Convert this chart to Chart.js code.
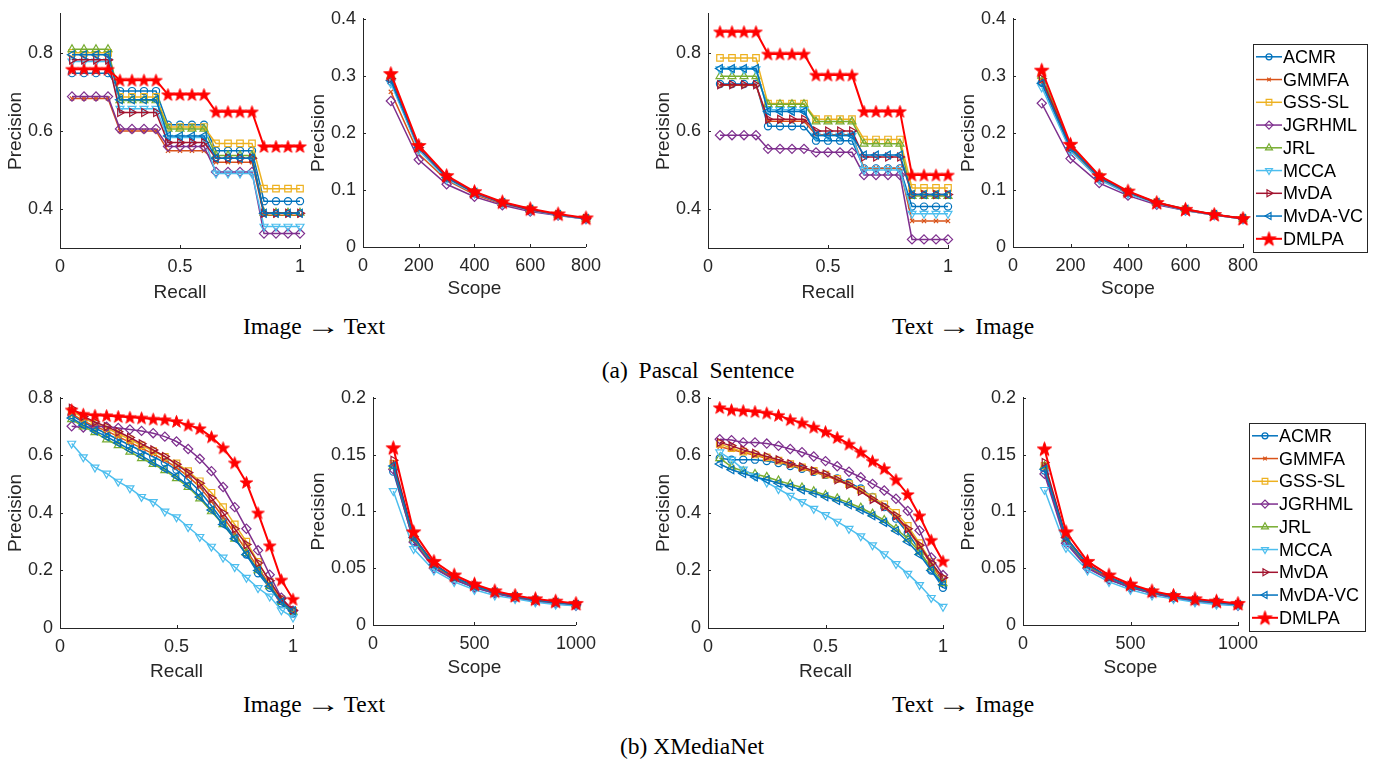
<!DOCTYPE html>
<html>
<head>
<meta charset="utf-8">
<script src="https://cdn.jsdelivr.net/npm/chart.js@4.4.1/dist/chart.umd.min.js"></script>
<style>
html, body { margin: 0; padding: 0; background: #fff; }
#fig { position: relative; width: 1380px; height: 767px; overflow: hidden; background: #fff; }
#fig canvas { position: absolute; }
.cap { position: absolute; font-family: "Liberation Serif", "Times New Roman", serif; font-size: 23.5px; line-height: 24px; color: #000; white-space: nowrap; transform: translateX(-50%); }
.arr { display: inline-block; width: 34px; margin: 0 4px; text-align: center; transform: scaleX(1.45); }
.ws { word-spacing: 5px; }
</style>
</head>
<body>
<div id="fig">
  <div class="cap" style="left:314px; top:314px;">Image<span class="arr">&rarr;</span>Text</div>
  <div class="cap" style="left:963px; top:314px;">Text<span class="arr">&rarr;</span>Image</div>
  <div class="cap ws" style="left:698px; top:358px;">(a) Pascal Sentence</div>
  <div class="cap" style="left:314px; top:692px;">Image<span class="arr">&rarr;</span>Text</div>
  <div class="cap" style="left:963px; top:692px;">Text<span class="arr">&rarr;</span>Image</div>
  <div class="cap" style="left:692px; top:734px;">(b) XMediaNet</div>
</div>
<script>
// ---- methods and their styles ----
const methods = ['ACMR', 'GMMFA', 'GSS-SL', 'JGRHML', 'JRL', 'MCCA', 'MvDA', 'MvDA-VC', 'DMLPA'];
const colors = ['#0072BD', '#D95319', '#EDB120', '#7E2F8E', '#77AC30', '#4DBEEE', '#A2142F', '#0072BD', '#FF0000'];
const markers = ['circle', 'crossRot', 'rect', 'rectRot', 'triangle', 'triangle', 'triangle', 'triangle', 'star5'];
const markerRotation = [0, 0, 0, 0, 0, 180, 90, -90, 0];
const markerRadius = [3.6, 3, 4.6, 4.6, 4.6, 4.6, 4.6, 4.6, 6];

// ---- x values and tick labels ----
const recall = [0.05, 0.1, 0.15, 0.2, 0.25, 0.3, 0.35, 0.4, 0.45, 0.5, 0.55, 0.6, 0.65, 0.7, 0.75, 0.8, 0.85, 0.9, 0.95, 1];
const scopePascal = [100, 200, 300, 400, 500, 600, 700, 800];
const scopeXMedia = [100, 200, 300, 400, 500, 600, 700, 800, 900, 1000];
const recallTicks = [0, 0.5, 1];
const prTicksPascal = [0.4, 0.6, 0.8];
const prTicksXMedia = [0, 0.2, 0.4, 0.6, 0.8];
const scopeTicksPascalX = [0, 200, 400, 600, 800];
const scopeTicksPascalY = [0, 0.1, 0.2, 0.3, 0.4];
const scopeTicksXMediaX = [0, 500, 1000];
const scopeTicksXMediaY = [0, 0.05, 0.1, 0.15, 0.2];

// ---- Pascal Sentence, Image -> Text, precision vs recall (rows follow methods) ----
const pascalImgTxtPR = [
  [0.748,0.748,0.748,0.748, 0.702,0.702,0.702,0.702, 0.616,0.616,0.616,0.616, 0.549,0.549,0.549,0.549, 0.420,0.420,0.420,0.420],
  [0.683,0.683,0.683,0.683, 0.600,0.600,0.600,0.600, 0.549,0.549,0.549,0.549, 0.520,0.520,0.520,0.520, 0.384,0.384,0.384,0.384],
  [0.800,0.800,0.800,0.800, 0.687,0.687,0.687,0.687, 0.610,0.610,0.610,0.610, 0.568,0.568,0.568,0.568, 0.452,0.452,0.452,0.452],
  [0.688,0.688,0.688,0.688, 0.605,0.605,0.605,0.605, 0.560,0.560,0.560,0.560, 0.495,0.495,0.495,0.495, 0.337,0.337,0.337,0.337],
  [0.809,0.809,0.809,0.809, 0.678,0.678,0.678,0.678, 0.605,0.605,0.605,0.605, 0.537,0.537,0.537,0.537, 0.390,0.390,0.390,0.390],
  [0.778,0.778,0.778,0.778, 0.657,0.657,0.657,0.657, 0.583,0.583,0.583,0.583, 0.491,0.491,0.491,0.491, 0.355,0.355,0.355,0.355],
  [0.782,0.782,0.782,0.782, 0.647,0.647,0.647,0.647, 0.570,0.570,0.570,0.570, 0.530,0.530,0.530,0.530, 0.389,0.389,0.389,0.389],
  [0.795,0.795,0.795,0.795, 0.680,0.680,0.680,0.680, 0.587,0.587,0.587,0.587, 0.530,0.530,0.530,0.530, 0.389,0.389,0.389,0.389],
  [0.758,0.758,0.758,0.758, 0.730,0.730,0.730,0.730, 0.693,0.693,0.693,0.693, 0.649,0.649,0.649,0.649, 0.560,0.560,0.560,0.560]
];

// ---- Pascal Sentence, Image -> Text, precision vs scope ----
const pascalImgTxtScope = [
  [0.290, 0.173, 0.121, 0.095, 0.077, 0.065, 0.057, 0.050],
  [0.272, 0.163, 0.117, 0.092, 0.075, 0.064, 0.056, 0.049],
  [0.298, 0.176, 0.123, 0.096, 0.078, 0.066, 0.057, 0.050],
  [0.256, 0.153, 0.110, 0.088, 0.073, 0.062, 0.055, 0.049],
  [0.300, 0.176, 0.123, 0.096, 0.078, 0.066, 0.057, 0.050],
  [0.287, 0.170, 0.119, 0.094, 0.076, 0.064, 0.056, 0.049],
  [0.295, 0.174, 0.122, 0.095, 0.077, 0.065, 0.057, 0.050],
  [0.292, 0.175, 0.122, 0.096, 0.078, 0.066, 0.057, 0.050],
  [0.304, 0.178, 0.125, 0.097, 0.079, 0.067, 0.058, 0.051]
];

// ---- Pascal Sentence, Text -> Image, precision vs recall ----
const pascalTxtImgPR = [
  [0.720,0.720,0.720,0.720, 0.612,0.612,0.612,0.612, 0.575,0.575,0.575,0.575, 0.504,0.504,0.504,0.504, 0.406,0.406,0.406,0.406],
  [0.717,0.717,0.717,0.717, 0.625,0.625,0.625,0.625, 0.590,0.590,0.590,0.590, 0.504,0.504,0.504,0.504, 0.369,0.369,0.369,0.369],
  [0.787,0.787,0.787,0.787, 0.670,0.670,0.670,0.670, 0.630,0.630,0.630,0.630, 0.578,0.578,0.578,0.578, 0.454,0.454,0.454,0.454],
  [0.589,0.589,0.589,0.589, 0.554,0.554,0.554,0.554, 0.545,0.545,0.545,0.545, 0.487,0.487,0.487,0.487, 0.322,0.322,0.322,0.322],
  [0.740,0.740,0.740,0.740, 0.668,0.668,0.668,0.668, 0.624,0.624,0.624,0.624, 0.567,0.567,0.567,0.567, 0.433,0.433,0.433,0.433],
  [0.758,0.758,0.758,0.758, 0.654,0.654,0.654,0.654, 0.588,0.588,0.588,0.588, 0.500,0.500,0.500,0.500, 0.388,0.388,0.388,0.388],
  [0.718,0.718,0.718,0.718, 0.630,0.630,0.630,0.630, 0.600,0.600,0.600,0.600, 0.533,0.533,0.533,0.533, 0.437,0.437,0.437,0.437],
  [0.760,0.760,0.760,0.760, 0.650,0.650,0.650,0.650, 0.588,0.588,0.588,0.588, 0.538,0.538,0.538,0.538, 0.437,0.437,0.437,0.437],
  [0.854,0.854,0.854,0.854, 0.797,0.797,0.797,0.797, 0.743,0.743,0.743,0.743, 0.650,0.650,0.650,0.650, 0.487,0.487,0.487,0.487]
];

// ---- Pascal Sentence, Text -> Image, precision vs scope ----
const pascalTxtImgScope = [
  [0.288, 0.172, 0.120, 0.095, 0.077, 0.065, 0.057, 0.050],
  [0.290, 0.170, 0.119, 0.094, 0.076, 0.064, 0.056, 0.049],
  [0.300, 0.177, 0.124, 0.097, 0.078, 0.066, 0.057, 0.050],
  [0.252, 0.155, 0.112, 0.090, 0.074, 0.064, 0.056, 0.049],
  [0.300, 0.177, 0.123, 0.096, 0.078, 0.066, 0.057, 0.050],
  [0.280, 0.168, 0.118, 0.093, 0.076, 0.064, 0.056, 0.049],
  [0.295, 0.175, 0.122, 0.096, 0.077, 0.065, 0.057, 0.050],
  [0.287, 0.174, 0.122, 0.096, 0.078, 0.066, 0.057, 0.050],
  [0.310, 0.180, 0.125, 0.098, 0.078, 0.066, 0.057, 0.050]
];

// ---- XMediaNet, Image -> Text, precision vs recall ----
const xmediaImgTxtPR = [
  [0.740,0.715,0.695,0.675,0.655,0.635,0.615,0.595,0.575,0.550,0.515,0.475,0.425,0.370,0.315,0.255,0.190,0.140,0.085,0.050],
  [0.745,0.720,0.700,0.685,0.665,0.645,0.625,0.605,0.583,0.557,0.527,0.490,0.440,0.385,0.330,0.270,0.210,0.150,0.095,0.055],
  [0.755,0.730,0.710,0.695,0.675,0.655,0.635,0.615,0.595,0.572,0.545,0.510,0.470,0.420,0.360,0.300,0.230,0.160,0.100,0.060],
  [0.701,0.697,0.700,0.700,0.695,0.690,0.685,0.677,0.665,0.648,0.622,0.588,0.545,0.490,0.420,0.345,0.270,0.185,0.105,0.060],
  [0.725,0.700,0.680,0.655,0.635,0.612,0.590,0.570,0.548,0.520,0.490,0.450,0.405,0.360,0.310,0.260,0.200,0.145,0.090,0.055],
  [0.641,0.594,0.558,0.537,0.509,0.486,0.456,0.438,0.405,0.385,0.351,0.317,0.283,0.245,0.212,0.175,0.139,0.110,0.062,0.037],
  [0.764,0.735,0.716,0.700,0.682,0.662,0.640,0.619,0.596,0.569,0.540,0.503,0.452,0.400,0.345,0.290,0.226,0.164,0.102,0.062],
  [0.730,0.705,0.685,0.665,0.643,0.620,0.598,0.575,0.553,0.527,0.495,0.455,0.410,0.360,0.310,0.255,0.200,0.145,0.090,0.060],
  [0.758,0.743,0.739,0.738,0.735,0.732,0.730,0.726,0.724,0.718,0.705,0.693,0.664,0.626,0.574,0.506,0.400,0.286,0.167,0.100]
];

// ---- XMediaNet, Image -> Text, precision vs scope ----
const xmediaImgTxtScope = [
  [0.135, 0.074, 0.051, 0.040, 0.033, 0.028, 0.024, 0.021, 0.019, 0.018],
  [0.142, 0.076, 0.052, 0.041, 0.034, 0.028, 0.025, 0.022, 0.020, 0.018],
  [0.142, 0.077, 0.053, 0.042, 0.034, 0.029, 0.025, 0.022, 0.020, 0.018],
  [0.137, 0.073, 0.050, 0.040, 0.033, 0.028, 0.024, 0.021, 0.019, 0.017],
  [0.140, 0.076, 0.053, 0.042, 0.034, 0.029, 0.025, 0.022, 0.020, 0.018],
  [0.118, 0.067, 0.048, 0.038, 0.031, 0.026, 0.023, 0.020, 0.018, 0.017],
  [0.145, 0.078, 0.054, 0.042, 0.035, 0.029, 0.025, 0.022, 0.020, 0.018],
  [0.140, 0.077, 0.053, 0.042, 0.034, 0.029, 0.025, 0.022, 0.020, 0.018],
  [0.156, 0.082, 0.056, 0.044, 0.036, 0.030, 0.026, 0.023, 0.021, 0.019]
];

// ---- XMediaNet, Text -> Image, precision vs recall ----
const xmediaTxtImgPR = [
  [0.590,0.585,0.585,0.585,0.580,0.573,0.563,0.553,0.543,0.532,0.520,0.505,0.485,0.455,0.420,0.380,0.330,0.270,0.200,0.140],
  [0.630,0.620,0.610,0.600,0.590,0.578,0.566,0.554,0.542,0.530,0.514,0.496,0.475,0.448,0.420,0.385,0.340,0.285,0.220,0.165],
  [0.640,0.625,0.613,0.603,0.593,0.582,0.570,0.558,0.546,0.533,0.518,0.500,0.480,0.455,0.430,0.400,0.355,0.295,0.230,0.170],
  [0.656,0.653,0.645,0.645,0.641,0.633,0.622,0.611,0.596,0.580,0.562,0.543,0.524,0.501,0.478,0.449,0.407,0.339,0.245,0.184],
  [0.590,0.560,0.545,0.535,0.525,0.512,0.500,0.488,0.475,0.462,0.450,0.435,0.418,0.397,0.375,0.345,0.310,0.265,0.210,0.155],
  [0.611,0.585,0.551,0.528,0.506,0.483,0.460,0.438,0.415,0.393,0.370,0.345,0.319,0.288,0.257,0.223,0.189,0.150,0.105,0.074],
  [0.645,0.633,0.619,0.607,0.596,0.585,0.571,0.560,0.546,0.535,0.515,0.498,0.475,0.447,0.422,0.390,0.345,0.288,0.226,0.175],
  [0.570,0.550,0.537,0.525,0.515,0.503,0.492,0.480,0.468,0.456,0.443,0.428,0.410,0.390,0.367,0.338,0.300,0.255,0.200,0.150],
  [0.766,0.758,0.755,0.752,0.747,0.739,0.724,0.713,0.698,0.682,0.662,0.639,0.611,0.580,0.554,0.515,0.464,0.390,0.305,0.232]
];

// ---- XMediaNet, Text -> Image, precision vs scope ----
const xmediaTxtImgScope = [
  [0.136, 0.074, 0.051, 0.040, 0.033, 0.028, 0.024, 0.021, 0.019, 0.018],
  [0.140, 0.076, 0.052, 0.041, 0.034, 0.028, 0.025, 0.022, 0.020, 0.018],
  [0.140, 0.077, 0.053, 0.042, 0.034, 0.029, 0.025, 0.022, 0.020, 0.018],
  [0.133, 0.072, 0.050, 0.040, 0.033, 0.028, 0.024, 0.021, 0.019, 0.017],
  [0.140, 0.076, 0.053, 0.042, 0.034, 0.029, 0.025, 0.022, 0.020, 0.018],
  [0.119, 0.068, 0.048, 0.038, 0.031, 0.026, 0.023, 0.020, 0.018, 0.017],
  [0.143, 0.077, 0.054, 0.042, 0.035, 0.029, 0.025, 0.022, 0.020, 0.018],
  [0.137, 0.077, 0.053, 0.042, 0.034, 0.029, 0.025, 0.022, 0.020, 0.018],
  [0.155, 0.082, 0.056, 0.044, 0.036, 0.030, 0.026, 0.023, 0.021, 0.019]
];

// ---- drawing helpers ----
const SANS = '"Liberation Sans", Arial, Helvetica, sans-serif';
const AXIS = '#262626';
const fig = document.getElementById('fig');
const fmt = v => String(+Number(v).toFixed(3));

// filled five-pointed star used for DMLPA
function starImage(R) {
  const s = Math.ceil(2 * R + 4);
  const c = document.createElement('canvas');
  c.width = s; c.height = s;
  const g = c.getContext('2d');
  const cx = s / 2, cy = s / 2 + R * 0.08, r = R * 0.4;
  g.beginPath();
  for (let k = 0; k < 10; k++) {
    const a = -Math.PI / 2 + k * Math.PI / 5;
    const rr = k % 2 === 0 ? R : r;
    g.lineTo(cx + rr * Math.cos(a), cy + rr * Math.sin(a));
  }
  g.closePath();
  g.fillStyle = '#FF0000';
  g.strokeStyle = '#FF0000';
  g.lineWidth = 1;
  g.fill(); g.stroke();
  return c;
}

// short inward tick marks along both axes
const innerTicks = {
  id: 'innerTicks',
  afterDraw(chart) {
    const { ctx, chartArea: a, scales } = chart;
    ctx.save();
    ctx.strokeStyle = AXIS; ctx.lineWidth = 1;
    ctx.beginPath();
    scales.x.ticks.forEach(t => {
      const px = Math.round(scales.x.getPixelForValue(t.value)) + 0.5;
      ctx.moveTo(px, a.bottom); ctx.lineTo(px, a.bottom - 3);
    });
    scales.y.ticks.forEach(t => {
      const py = Math.round(scales.y.getPixelForValue(t.value)) + 0.5;
      ctx.moveTo(a.left, py); ctx.lineTo(a.left + 3, py);
    });
    ctx.stroke();
    ctx.restore();
  }
};

// boxed legend with line + marker samples, to the right of the plot
const sideLegend = {
  id: 'sideLegend',
  afterDraw(chart, args, opts) {
    if (!opts || !opts.show) return;
    const { ctx, chartArea: a } = chart;
    const x0 = a.right + opts.dx, y0 = a.top + opts.dy, w = opts.w, h = opts.h;
    ctx.save();
    ctx.fillStyle = '#fff';
    ctx.fillRect(x0, y0, w, h);
    ctx.strokeStyle = AXIS; ctx.lineWidth = 1;
    ctx.strokeRect(Math.round(x0) + 0.5, Math.round(y0) + 0.5, w, h);
    const step = opts.step;
    chart.data.datasets.forEach((ds, i) => {
      const y = y0 + 13 + i * step;
      ctx.strokeStyle = ds.borderColor; ctx.lineWidth = ds.borderWidth;
      ctx.beginPath(); ctx.moveTo(x0 + 3, y); ctx.lineTo(x0 + 29, y); ctx.stroke();
      const ps = ds.pointStyle;
      if (ps instanceof HTMLCanvasElement) {
        ctx.drawImage(ps, x0 + 16 - ps.width / 2, y - ps.height / 2);
      } else if (Chart.helpers && Chart.helpers.drawPoint) {
        ctx.strokeStyle = ds.borderColor; ctx.fillStyle = 'rgba(0,0,0,0)'; ctx.lineWidth = 1.2;
        Chart.helpers.drawPoint(ctx, { pointStyle: ps, rotation: ds.rotation, radius: Math.max(ds.pointRadius - 0.6, 2.5), borderWidth: 1.2 }, x0 + 16, y);
      }
      ctx.fillStyle = '#000';
      ctx.font = '18px ' + SANS;
      ctx.textBaseline = 'middle';
      ctx.textAlign = 'left';
      ctx.fillText(ds.label, x0 + 30, y + 1);
    });
    ctx.restore();
  }
};

function makePanel(p) {
  const padTop = 12, xH = 60;
  const padR = p.legend ? 1380 - p.box.r : 16;
  const w = p.box.r - p.box.l + p.yW + padR;
  const h = p.box.b - p.box.t + padTop + xH;
  const cv = document.createElement('canvas');
  cv.width = w; cv.height = h;
  cv.style.left = (p.box.l - p.yW) + 'px';
  cv.style.top = (p.box.t - padTop) + 'px';
  cv.style.width = w + 'px'; cv.style.height = h + 'px';
  fig.appendChild(cv);
  const star = starImage(p.starR);
  const datasets = methods.map((m, i) => ({
    label: m,
    data: p.xs.map((x, j) => ({ x: x, y: p.values[i][j] })),
    borderColor: colors[i],
    backgroundColor: 'rgba(0,0,0,0)',
    borderWidth: i === 8 ? 2 : 1.5,
    pointStyle: markers[i] === 'star5' ? star : markers[i],
    rotation: markerRotation[i],
    pointRadius: markerRadius[i],
    pointBorderWidth: 1.2,
    pointBorderColor: colors[i],
    pointBackgroundColor: 'rgba(0,0,0,0)',
    tension: 0,
    clip: false,
    order: 9 - i
  }));
  const tickFont = { family: SANS, size: 18 };
  const titleFont = { family: SANS, size: 19 };
  new Chart(cv, {
    type: 'line',
    data: { datasets: datasets },
    options: {
      responsive: false,
      animation: false,
      devicePixelRatio: 1,
      events: [],
      layout: { padding: { top: padTop, right: padR, left: 0, bottom: 0 }, autoPadding: false },
      plugins: {
        legend: { display: false },
        tooltip: { enabled: false },
        sideLegend: p.legend || { show: false }
      },
      scales: {
        x: {
          type: 'linear', min: p.xMin, max: p.xMax,
          afterBuildTicks: s => { s.ticks = p.xTicks.map(v => ({ value: v })); },
          afterFit: s => { s.height = xH; },
          grid: { display: false, drawTicks: false },
          border: { display: true, color: AXIS, width: 1 },
          ticks: { font: tickFont, color: AXIS, padding: 8, autoSkip: false, maxRotation: 0, callback: fmt },
          title: { display: true, text: p.xTitle, font: titleFont, color: AXIS, padding: { top: 0, bottom: p.xTitlePad } }
        },
        y: {
          type: 'linear', min: p.yMin, max: p.yMax,
          afterBuildTicks: s => { s.ticks = p.yTicks.map(v => ({ value: v })); },
          afterFit: s => { s.width = p.yW; },
          grid: { display: false, drawTicks: false },
          border: { display: true, color: AXIS, width: 1 },
          ticks: { font: tickFont, color: AXIS, padding: 7, autoSkip: false, callback: fmt },
          title: { display: true, text: 'Precision', font: titleFont, color: AXIS, padding: { top: 4, bottom: 0 } }
        }
      }
    },
    plugins: [innerTicks, sideLegend]
  });
}

const panels = [
  { xs: recall, values: pascalImgTxtPR, xTitle: 'Recall', xMin: 0, xMax: 1, xTicks: recallTicks,
    yMin: 0.3, yMax: 0.9, yTicks: prTicksPascal, box: { l: 60, t: 8, r: 300, b: 248 }, yW: 60, starR: 6.5, xTitlePad: 4 },
  { xs: scopePascal, values: pascalImgTxtScope, xTitle: 'Scope', xMin: 0, xMax: 800, xTicks: scopeTicksPascalX,
    yMin: 0, yMax: 0.4, yTicks: scopeTicksPascalY, box: { l: 363, t: 13, r: 593, b: 247 }, yW: 60, starR: 7.5, xTitlePad: 7 },
  { xs: recall, values: pascalTxtImgPR, xTitle: 'Recall', xMin: 0, xMax: 1, xTicks: recallTicks,
    yMin: 0.3, yMax: 0.9, yTicks: prTicksPascal, box: { l: 708, t: 8, r: 948, b: 248 }, yW: 60, starR: 6.5, xTitlePad: 4 },
  { xs: scopePascal, values: pascalTxtImgScope, xTitle: 'Scope', xMin: 0, xMax: 800, xTicks: scopeTicksPascalX,
    yMin: 0, yMax: 0.4, yTicks: scopeTicksPascalY, box: { l: 1013, t: 13, r: 1243, b: 247 }, yW: 60, starR: 7.5, xTitlePad: 7,
    legend: { show: true, dx: 10, dy: 25, w: 114, h: 208, step: 22.75 } },
  { xs: recall, values: xmediaImgTxtPR, xTitle: 'Recall', xMin: 0, xMax: 1, xTicks: recallTicks,
    yMin: 0, yMax: 0.8, yTicks: prTicksXMedia, box: { l: 60, t: 392, r: 293, b: 628 }, yW: 60, starR: 6.5, xTitlePad: 5 },
  { xs: scopeXMedia, values: xmediaImgTxtScope, xTitle: 'Scope', xMin: 0, xMax: 1000, xTicks: scopeTicksXMediaX,
    yMin: 0, yMax: 0.2, yTicks: scopeTicksXMediaY, box: { l: 373, t: 392, r: 588, b: 625 }, yW: 70, starR: 7.5, xTitlePad: 6 },
  { xs: recall, values: xmediaTxtImgPR, xTitle: 'Recall', xMin: 0, xMax: 1, xTicks: recallTicks,
    yMin: 0, yMax: 0.8, yTicks: prTicksXMedia, box: { l: 708, t: 392, r: 943, b: 628 }, yW: 60, starR: 6.5, xTitlePad: 5 },
  { xs: scopeXMedia, values: xmediaTxtImgScope, xTitle: 'Scope', xMin: 0, xMax: 1000, xTicks: scopeTicksXMediaX,
    yMin: 0, yMax: 0.2, yTicks: scopeTicksXMediaY, box: { l: 1023, t: 392, r: 1238, b: 625 }, yW: 70, starR: 7.5, xTitlePad: 6,
    legend: { show: true, dx: 11, dy: 25, w: 116, h: 208, step: 22.75 } }
];

panels.forEach(makePanel);
</script>
</body>
</html>
